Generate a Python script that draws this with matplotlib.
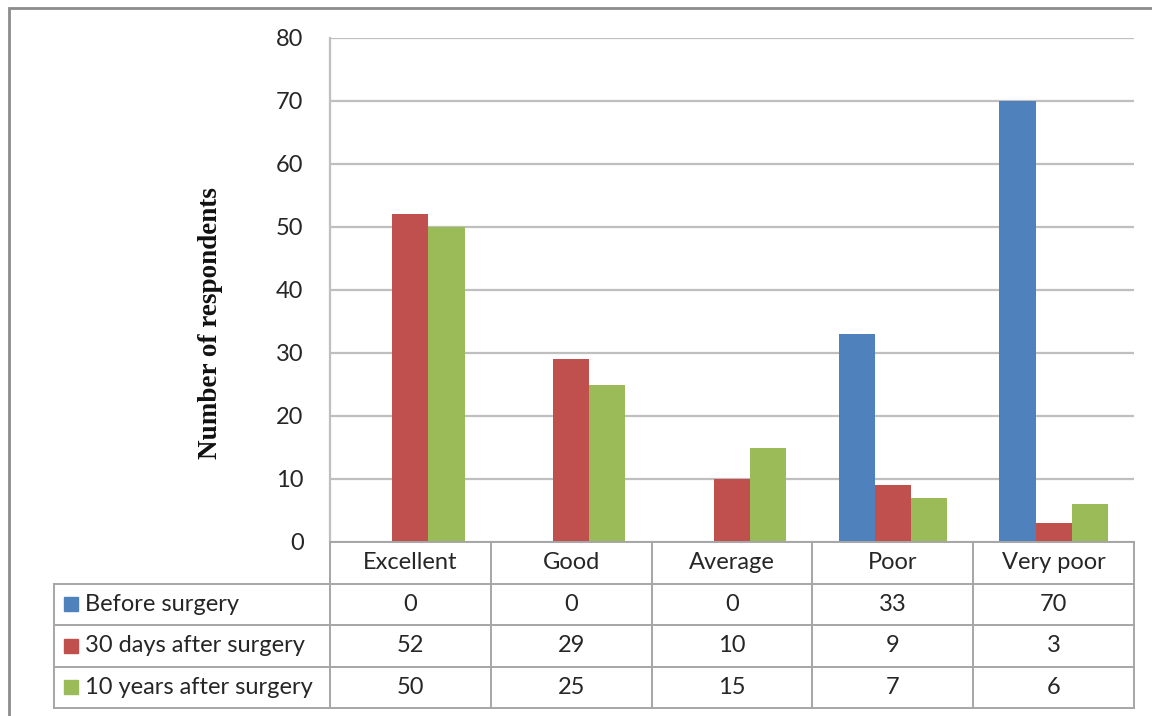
import matplotlib.pyplot as plt
from matplotlib.patches import Rectangle
from matplotlib.transforms import blended_transform_factory

categories = ["Excellent", "Good", "Average", "Poor", "Very poor"]
series_names = ["Before surgery", "30 days after surgery", "10 years after surgery"]
before = [0, 0, 0, 33, 70]
after_30d = [52, 29, 10, 9, 3]
after_10y = [50, 25, 15, 7, 6]
y_ticks = [0, 10, 20, 30, 40, 50, 60, 70, 80]

colors = ["#4F81BD", "#C0504D", "#9BBB59"]
grid_c = "#BFBFBF"
line_c = "#A6A6A6"
txt_c = "#262626"
sans = ["Lato", "DejaVu Sans"]
fs = 17

W, H = 1152, 716
fig = plt.figure(figsize=(W / 100, H / 100), dpi=100)
ax = fig.add_axes([330 / W, 1 - 542 / H, (1134 - 330) / W, (542 - 38) / H])

series = [before, after_30d, after_10y]
bw = 0.225
for i, vals in enumerate(series):
    xs = [k + (i - 1) * bw for k in range(len(categories))]
    ax.bar(xs, vals, width=bw, color=colors[i], zorder=3)

ax.set_xlim(-0.5, len(categories) - 0.5)
ax.set_ylim(0, 80)
ax.set_yticks(y_ticks)
ax.set_yticklabels([str(v) for v in y_ticks], fontsize=fs, color=txt_c, family=sans)
ax.tick_params(axis="y", length=0, pad=19)
ax.set_xticks([])
ax.yaxis.grid(True, color=grid_c, linewidth=1.6, zorder=0)
for s in ["top", "right", "bottom"]:
    ax.spines[s].set_visible(False)
ax.spines["left"].set_color(grid_c)
ax.spines["left"].set_linewidth(1.6)

ax.set_ylabel("Number of respondents", family="Liberation Serif", fontweight="bold",
              fontsize=19.5, color="#111111")
ax.yaxis.set_label_coords(-0.133, 0.435)

# data table under the plot area: x in category units, y in axes fraction
tr = blended_transform_factory(ax.transData, ax.transAxes)
row_h = 41.5 / 504
nrows = 1 + len(series_names)
x_left = -0.5 - (330 - 54) / 160.8
x_right = len(categories) - 0.5


def hline(x0, x1, y):
    ax.plot([x0, x1], [y, y], color=line_c, lw=1.4, transform=tr, clip_on=False, zorder=4)


def vline(x, y0, y1):
    ax.plot([x, x], [y0, y1], color=line_c, lw=1.4, transform=tr, clip_on=False, zorder=4)


hline(-0.5, x_right, 0)
for r in range(1, nrows + 1):
    hline(x_left, x_right, -r * row_h)
for k in range(len(categories) + 1):
    vline(k - 0.5, 0, -nrows * row_h)
vline(x_left, -row_h, -nrows * row_h)

for k, c in enumerate(categories):
    ax.text(k, -0.5 * row_h, c, transform=tr, ha="center", va="center",
            fontsize=fs, color=txt_c, family=sans)

for i, (name, vals) in enumerate(zip(series_names, series)):
    yc = -(i + 1.5) * row_h
    sw = 14 / 160.8
    ax.add_patch(Rectangle((x_left + 10 / 160.8, yc - 7 / 504), sw, 14 / 504,
                           transform=tr, color=colors[i], clip_on=False))
    ax.text(x_left + 31 / 160.8, yc, name, transform=tr, ha="left", va="center",
            fontsize=fs, color=txt_c, family=sans)
    for k, v in enumerate(vals):
        ax.text(k, yc, str(v), transform=tr, ha="center", va="center",
                fontsize=fs, color=txt_c, family=sans)

# outer chart frame (right and bottom edges run off the image)
fig.add_artist(Rectangle((9 / W, -0.1), 1.2, 1 - 8 / H + 0.1, transform=fig.transFigure,
                         fill=False, edgecolor="#8C8C8C", lw=2))

fig.savefig("out.png", dpi=100)
